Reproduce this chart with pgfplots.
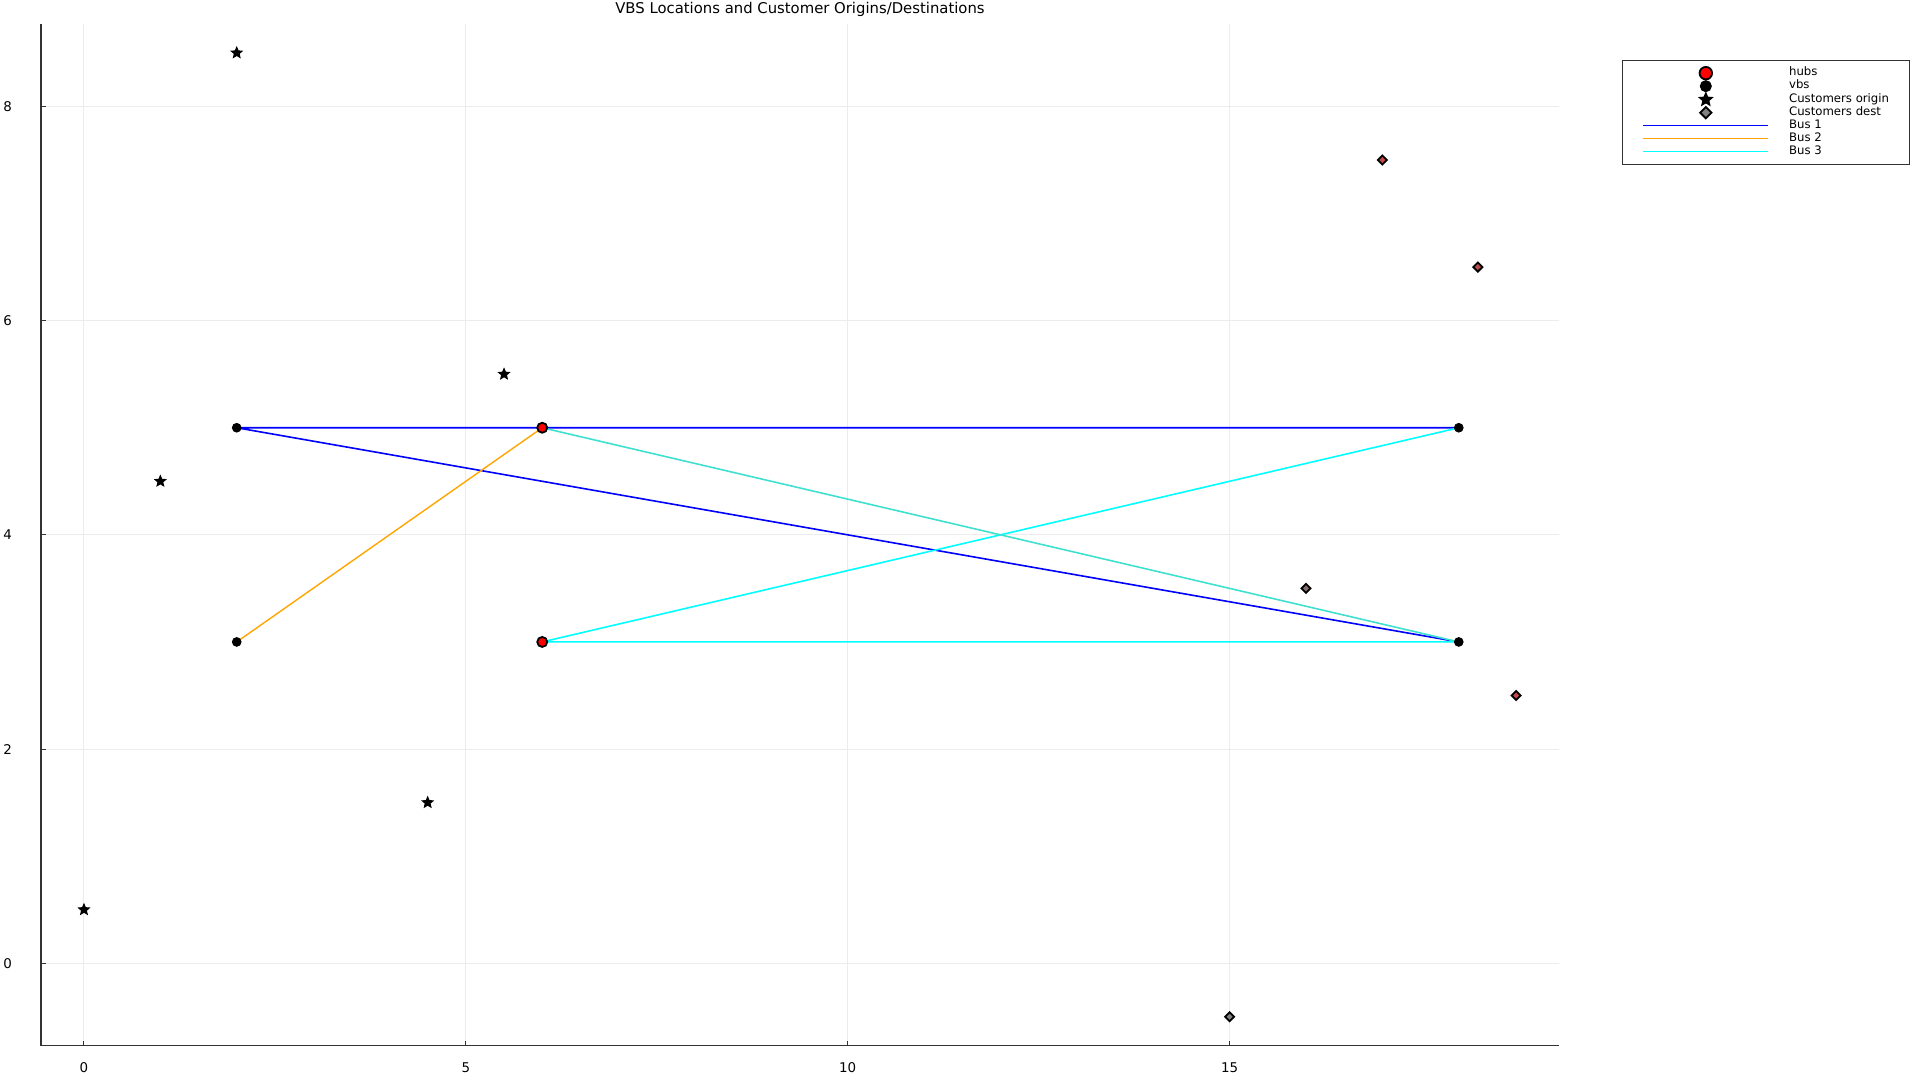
\documentclass[border=0pt]{standalone}
\usepackage{fontspec}
\setmainfont{DejaVu Sans}
\usepackage{pgfplots}
\pgfplotsset{compat=1.18}

\definecolor{gridc}{RGB}{236,236,236}
\definecolor{busblue}{RGB}{0,0,255}
\definecolor{busorange}{RGB}{255,165,0}
\definecolor{buscyan}{RGB}{0,255,255}
\definecolor{busturq}{RGB}{64,224,208}
\definecolor{destgrey}{RGB}{128,128,128}
\definecolor{destred}{RGB}{190,75,75}
\definecolor{destmauve}{RGB}{135,110,110}

\pgfdeclareplotmark{fstar}{%
  \pgfpathmoveto{\pgfqpointpolar{90}{\pgfplotmarksize}}%
  \pgfpathlineto{\pgfqpointpolar{126}{0.45\pgfplotmarksize}}%
  \pgfpathlineto{\pgfqpointpolar{162}{\pgfplotmarksize}}%
  \pgfpathlineto{\pgfqpointpolar{198}{0.45\pgfplotmarksize}}%
  \pgfpathlineto{\pgfqpointpolar{234}{\pgfplotmarksize}}%
  \pgfpathlineto{\pgfqpointpolar{270}{0.45\pgfplotmarksize}}%
  \pgfpathlineto{\pgfqpointpolar{306}{\pgfplotmarksize}}%
  \pgfpathlineto{\pgfqpointpolar{342}{0.45\pgfplotmarksize}}%
  \pgfpathlineto{\pgfqpointpolar{18}{\pgfplotmarksize}}%
  \pgfpathlineto{\pgfqpointpolar{54}{0.45\pgfplotmarksize}}%
  \pgfpathclose
  \pgfusepathqfillstroke}

\begin{document}
\begin{tikzpicture}
\useasboundingbox (0,0) rectangle (960pt,540pt);
\node[anchor=base, font=\fontsize{7.42}{9}\selectfont] at (400pt,533.25pt) {VBS Locations and Customer Origins/Destinations};
\begin{axis}[
  at={(20.5pt,17.15pt)}, anchor=south west,
  scale only axis, width=759pt, height=510.85pt,
  xmin=-0.5625, xmax=19.3125, ymin=-0.77, ymax=8.77,
  axis x line*=bottom, axis y line*=left,
  axis line style={-, line width=0.7pt, color=black!80},
  xtick={0,5,10,15}, ytick={0,2,4,6,8},
  tick align=inside, major tick length=2.5pt,
  tick style={black!80, line width=0.5pt},
  grid=major, grid style={gridc, line width=0.5pt},
  ticklabel style={font=\fontsize{6.7}{8}\selectfont},
  /pgf/number format/assume math mode=true,
  xticklabel style={yshift=-5pt},
  yticklabel style={xshift=-11pt},
  legend cell align=left,
  legend style={at={(1.0415,0.9646)}, anchor=north west, draw=black!80,
    line width=0.5pt, inner xsep=10pt, inner ysep=3pt,
    font=\fontsize{5.85}{6.5}\selectfont,
    nodes={inner sep=0pt, text height=4.6pt, text depth=1.9pt},
    /tikz/column 1/.style={column sep=10pt}},
  legend image code/.code={\draw[mark repeat=2,mark phase=2,#1,/tikz/every mark/.append style={scale=1.25}] plot coordinates {(0pt,0pt) (31.25pt,0pt) (62.5pt,0pt)};},
]
% hubs
\addplot[only marks, mark=*, mark size=2.5pt, mark options={fill=red, draw=black, line width=0.9pt}]
  coordinates {(6,5) (6,3)};
\addlegendentry{hubs}
% vbs
\addplot[only marks, mark=*, mark size=2.2pt, mark options={fill=black, draw=black}]
  coordinates {(2,5) (2,3) (18,5) (18,3)};
\addlegendentry{vbs}
% customers origin
\addplot[only marks, mark=fstar, mark size=2.8pt, mark options={fill=black, draw=black, line width=0.5pt}]
  coordinates {(2,8.5) (5.5,5.5) (1,4.5) (4.5,1.5) (0,0.5)};
\addlegendentry{Customers origin}
% customers dest
\addplot[only marks, mark=square*, mark size=1.6pt, mark options={rotate=45, fill=destgrey, draw=black, line width=0.9pt}]
  coordinates {(15,-0.5)};
\addlegendentry{Customers dest}
\addplot[only marks, forget plot, mark=square*, mark size=1.6pt, mark options={rotate=45, fill=destmauve, draw=black, line width=0.9pt}]
  coordinates {(16,3.5)};
\addplot[only marks, forget plot, mark=square*, mark size=1.6pt, mark options={rotate=45, fill=destred, draw=black, line width=0.9pt}]
  coordinates {(17,7.5) (18.25,6.5) (18.75,2.5)};
% buses
\addplot[busblue, line width=0.8pt, no marks] coordinates {(18,5) (2,5) (18,3)};
\addlegendentry{Bus 1}
\addplot[busorange, line width=0.7pt, no marks] coordinates {(2,3) (6,5)};
\addlegendentry{Bus 2}
\addplot[buscyan, line width=0.8pt, no marks] coordinates {(18,5) (6,3) (18,3)};
\addlegendentry{Bus 3}
\addplot[busturq, line width=0.8pt, no marks, forget plot] coordinates {(6,5) (18,3)};
\end{axis}
\end{tikzpicture}
\end{document}
